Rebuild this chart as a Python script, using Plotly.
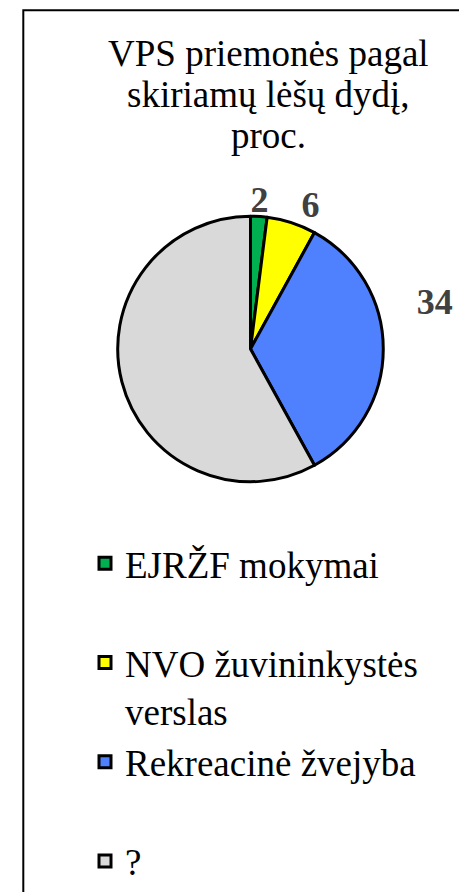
import plotly.graph_objects as go

# ---- data ----
categories = ["EJRŽF mokymai", "NVO žuvininkystės verslas", "Rekreacinė žvejyba", "?"]
legend_labels = ["EJRŽF mokymai<br> ", "NVO žuvininkystės<br>verslas", "Rekreacinė žvejyba<br> ", "?"]
values = [2, 6, 34, 58]
value_labels = ["2", "6", "34", ""]
colors = ["#00B050", "#FFFF00", "#4F81FF", "#D9D9D9"]
title_lines = ["VPS priemonės pagal", "skiriamų lėšų dydį,", "proc."]

# page has an 8px body margin, so the figure is 459x884 and sits at (8, 8)
W, H = 459, 884
OFF = 8
FONT = "Liberation Serif, Times New Roman, serif"


def px(x):
    return (x - OFF) / W


def py(y):
    return 1 - (y - OFF) / H


# slice labels: first slice's label is shown as the pie's top title,
# the big slice label is lifted a little with blank lines
slice_text = ["", value_labels[1], value_labels[2] + "<br> <br> ", ""]
slice_pos = ["none", "outside", "outside", "none"]

fig = go.Figure()
fig.add_trace(go.Pie(
    labels=legend_labels,
    values=values,
    text=slice_text,
    textinfo="text",
    textposition=slice_pos,
    sort=False,
    direction="clockwise",
    rotation=0,
    hoverinfo="skip",
    marker=dict(colors=colors, line=dict(color="black", width=3)),
    outsidetextfont=dict(family=FONT, size=36, color="#404040", weight="bold"),
    title=dict(text="\u00a0\u00a0" + value_labels[0], position="top center",
               font=dict(family=FONT, size=36, color="#404040", weight="bold")),
    domain=dict(x=[px(117), px(384)], y=[py(485.5), py(485.5 - 267 - 41)]),
))

title_y = [54.3, 95.5, 136.7]
for line, yy in zip(title_lines, title_y):
    fig.add_annotation(
        text=line, x=px(268), y=py(yy), xref="paper", yref="paper",
        xanchor="center", yanchor="middle", showarrow=False,
        font=dict(family=FONT, size=37, color="black"),
    )

# chart-area border (right and bottom sides run past the page edge)
fig.add_shape(type="rect", xref="paper", yref="paper",
              x0=px(23.3), x1=1.05, y0=-0.05, y1=py(10.3),
              line=dict(color="black", width=2), fillcolor="rgba(0,0,0,0)")

fig.update_layout(
    width=W, height=H,
    margin=dict(l=0, r=0, t=0, b=0),
    paper_bgcolor="white",
    plot_bgcolor="white",
    showlegend=True,
    legend=dict(
        x=px(85), y=py(537), xanchor="left", yanchor="top",
        font=dict(family=FONT, size=37, color="black"),
        valign="top", bgcolor="rgba(0,0,0,0)", traceorder="normal",
    ),
)

fig.write_html("out.html")
